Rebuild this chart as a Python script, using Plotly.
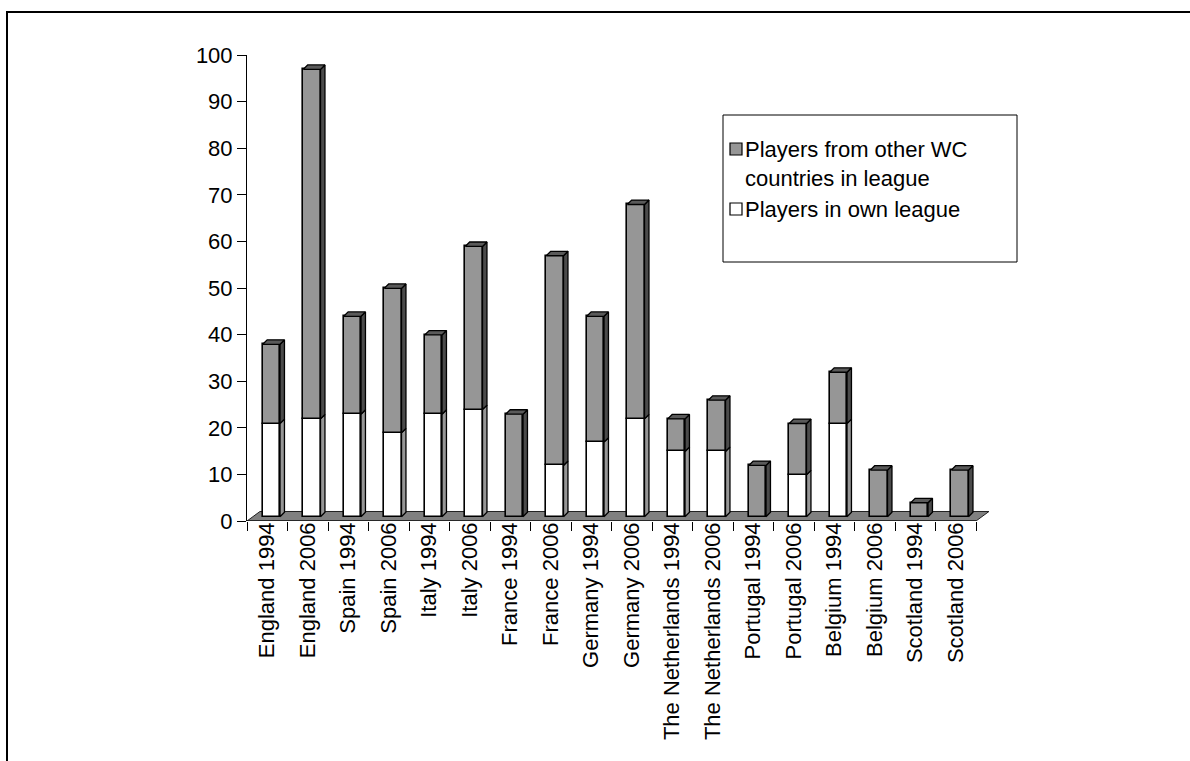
import plotly.graph_objects as go

# Squad players by league, World Cups 1994 and 2006
categories = [
    "England 1994", "England 2006", "Spain 1994", "Spain 2006",
    "Italy 1994", "Italy 2006", "France 1994", "France 2006",
    "Germany 1994", "Germany 2006", "The Netherlands 1994",
    "The Netherlands 2006", "Portugal 1994", "Portugal 2006",
    "Belgium 1994", "Belgium 2006", "Scotland 1994", "Scotland 2006",
]
own_league = [20, 21, 22, 18, 22, 23, 0, 11, 16, 21, 14, 14, 0, 9, 20, 0, 0, 0]
other_wc = [17, 75, 21, 31, 17, 35, 22, 45, 27, 46, 7, 11, 11, 11, 11, 10, 3, 10]

legend_other = "Players from other WC<br>countries in league"
legend_own = "Players in own league"

# pseudo-3D geometry (in axis units)
BAR_OFFSET = -0.112   # front face left edge relative to category centre
BAR_WIDTH = 0.427
LIFT = 0.92           # front face sits part-way back on the floor
DEPTH_X = 0.11
DEPTH_Y = 0.95
FLOOR_DX = 0.32
FLOOR_DY = 2.04

GRAY = "#969696"
GRAY_SIDE = "#4b4b4b"
GRAY_TOP = "#5a5a5a"
WHITE = "#ffffff"
WHITE_SIDE = "#969696"
FLOOR = "#808080"
FONT = "Liberation Sans, Arial, sans-serif"

n = len(categories)
idx = list(range(n))
base_own = [LIFT] * n
base_other = [LIFT + o for o in own_league]

fig = go.Figure()

fig.add_trace(go.Bar(
    x=idx, y=own_league, base=base_own, offset=BAR_OFFSET, width=BAR_WIDTH,
    name=legend_own, marker=dict(color=WHITE, line=dict(color="black", width=1.6)),
))
fig.add_trace(go.Bar(
    x=idx, y=other_wc, base=base_other, offset=BAR_OFFSET, width=BAR_WIDTH,
    name=legend_other.replace("<br>", " "),
    marker=dict(color=GRAY, line=dict(color="black", width=1.6)),
))


def side_poly(xs, ys, i, bottom, top):
    xr = i + BAR_OFFSET + BAR_WIDTH
    xs += [xr, xr + DEPTH_X, xr + DEPTH_X, xr, xr, None]
    ys += [bottom, bottom + DEPTH_Y, top + DEPTH_Y, top, bottom, None]


white_sx, white_sy, gray_sx, gray_sy, top_x, top_y = [], [], [], [], [], []
for i in idx:
    b0 = LIFT
    t0 = LIFT + own_league[i]
    t1 = t0 + other_wc[i]
    if own_league[i] > 0:
        side_poly(white_sx, white_sy, i, b0, t0)
    if other_wc[i] > 0:
        side_poly(gray_sx, gray_sy, i, t0, t1)
    xl = i + BAR_OFFSET
    xr = xl + BAR_WIDTH
    top_x += [xl, xl + DEPTH_X, xr + DEPTH_X, xr, xl, None]
    top_y += [t1, t1 + DEPTH_Y, t1 + DEPTH_Y, t1, t1, None]

for xs, ys, col in [(white_sx, white_sy, WHITE_SIDE),
                    (gray_sx, gray_sy, GRAY_SIDE),
                    (top_x, top_y, GRAY_TOP)]:
    fig.add_trace(go.Scatter(
        x=xs, y=ys, mode="lines", fill="toself", fillcolor=col,
        line=dict(color="black", width=1.3), showlegend=False,
        hoverinfo="skip",
    ))

x_lo = -0.5
x_hi = x_lo + 743 / 40.5

# floor of the chart
fig.add_shape(
    type="path", xref="x", yref="y", layer="below",
    path=(f"M {x_lo},0 L {n - 0.5},0 L {n - 0.5 + FLOOR_DX},{FLOOR_DY} "
          f"L {x_lo + FLOOR_DX},{FLOOR_DY} Z"),
    fillcolor=FLOOR, line=dict(color="#222222", width=1),
)
# x-axis baseline along the floor's front edge
fig.add_shape(
    type="line", xref="x", yref="y", x0=x_lo, x1=n - 0.5, y0=0, y1=0,
    line=dict(color="black", width=1.2),
)

W, H = 1190, 761
L, R, T, B = 247, 200, 55, 240
pw, ph = W - L - R, H - T - B


def px_x(p):
    return (p - L) / pw


def px_y(p):
    return (H - B - p) / ph


# legend frame
fig.add_shape(
    type="rect", xref="paper", yref="paper",
    x0=px_x(723), x1=px_x(1017), y0=px_y(262), y1=px_y(115),
    line=dict(color="black", width=1), fillcolor="white", layer="below",
)
# legend keys and labels
for fill, line_y, label in [(GRAY, 149, legend_other), (WHITE, 209, legend_own)]:
    fig.add_shape(
        type="rect", xref="paper", yref="paper",
        x0=px_x(730), x1=px_x(742), y0=px_y(line_y + 6), y1=px_y(line_y - 6),
        line=dict(color="black", width=1.2), fillcolor=fill,
    )
    fig.add_annotation(
        xref="paper", yref="paper", x=px_x(743), y=px_y(line_y - 14),
        xanchor="left", yanchor="top", align="left", text=label, showarrow=False,
        font=dict(family=FONT, size=22, color="black"),
    )
# outer frame
fig.add_shape(
    type="rect", xref="paper", yref="paper",
    x0=px_x(7), x1=px_x(1200), y0=px_y(775), y1=px_y(12),
    line=dict(color="black", width=2), fillcolor="rgba(0,0,0,0)",
)

fig.update_layout(
    width=W, height=H,
    margin=dict(l=L, r=R, t=T, b=B),
    paper_bgcolor="white", plot_bgcolor="rgba(0,0,0,0)",
    barmode="overlay", bargap=0,
    font=dict(family=FONT, color="black"),
    showlegend=False,
    xaxis=dict(
        range=[x_lo, x_hi], tickmode="array", tickvals=idx, ticktext=categories,
        tickangle=-90, ticks="", showgrid=False, zeroline=False, showline=False,
        tickfont=dict(family=FONT, size=22, color="black"),
        ticklabelstandoff=-4,
        minor=dict(tickmode="array", tickvals=[i - 0.5 for i in range(n + 1)],
                   ticks="outside", ticklen=9, tickcolor="black", tickwidth=1,
                   showgrid=False),
    ),
    yaxis=dict(
        range=[0, 100], tickmode="linear", tick0=0, dtick=10,
        ticks="outside", ticklen=9, tickcolor="black", tickwidth=1,
        showline=True, linecolor="black", linewidth=1,
        showgrid=False, zeroline=False,
        tickfont=dict(family=FONT, size=22, color="black"),
    ),
)

fig.write_html("out.html")
